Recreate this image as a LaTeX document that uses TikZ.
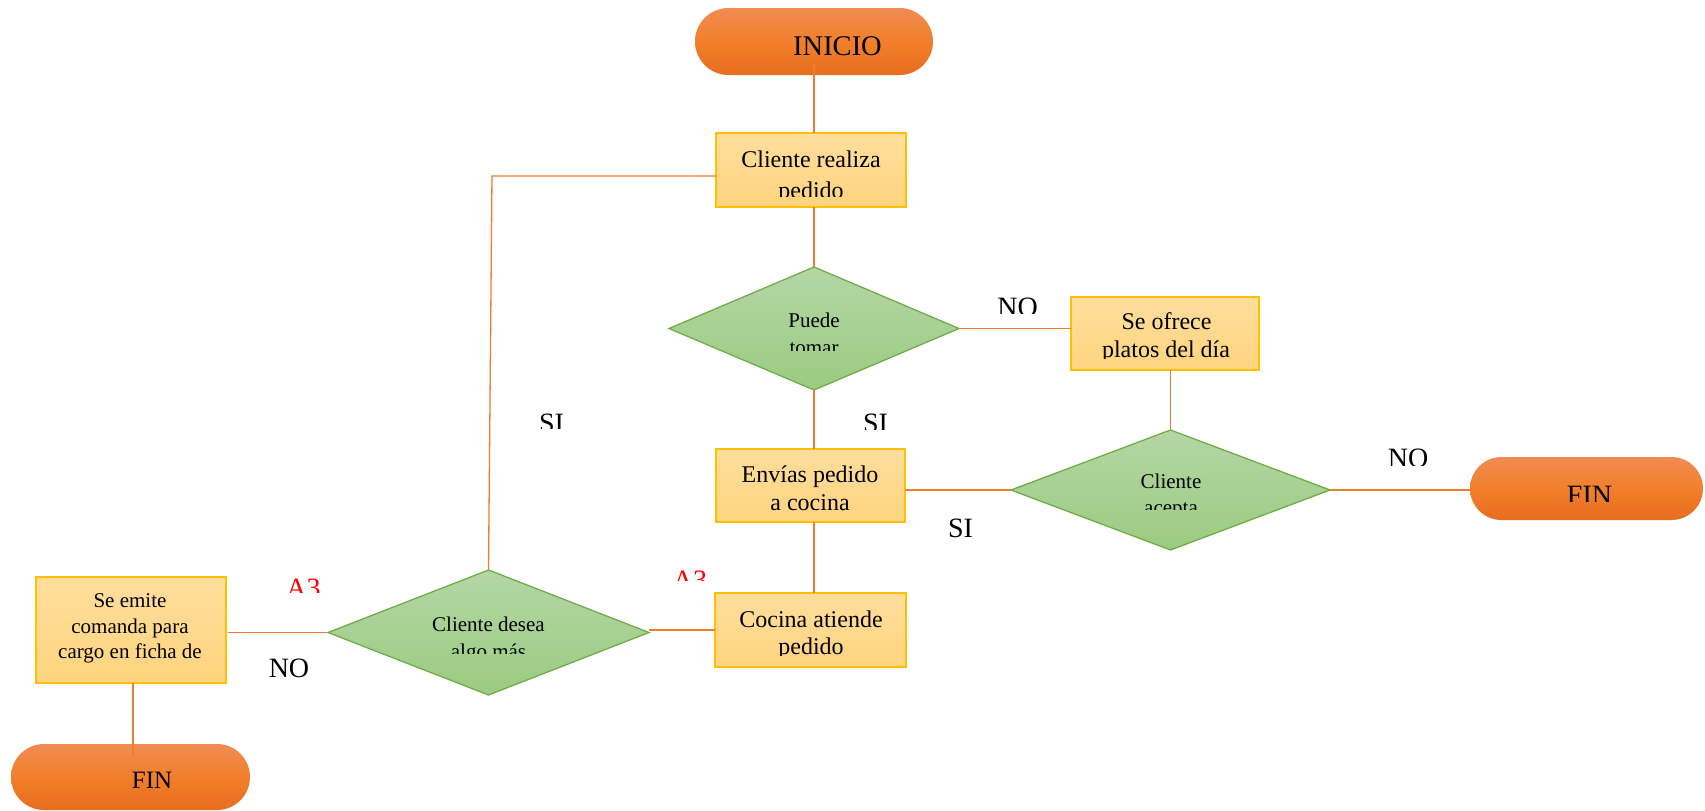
\documentclass[tikz,border=0pt]{standalone}
\usepackage{fontspec}
\setmainfont{Liberation Serif}
\usetikzlibrary{shapes.geometric,shapes.misc}

\definecolor{boxtop}{HTML}{FFDE9D}
\definecolor{boxbot}{HTML}{FFD47E}
\definecolor{boxline}{HTML}{FFC000}
\definecolor{dectop}{HTML}{B4D6A4}
\definecolor{decbot}{HTML}{9BCB82}
\definecolor{decline}{HTML}{70AD47}
\definecolor{termtop}{HTML}{F08C52}
\definecolor{termmid}{HTML}{F27F2B}
\definecolor{termbot}{HTML}{E66D1E}
\definecolor{conn}{HTML}{ED7D31}

\begin{document}
\begin{tikzpicture}[x=1pt,y=-1pt,
  procbox/.style={rectangle, draw=boxline, line width=1.8pt,
    top color=boxtop, bottom color=boxbot, inner sep=0pt, outer sep=0pt},
  decbox/.style={diamond, draw=decline, line width=1.3pt,
    top color=dectop, bottom color=decbot, inner sep=0pt, outer sep=0pt},
  termbox/.style={rounded rectangle, draw=none,
    top color=termtop, bottom color=termbot, middle color=termmid,
    inner sep=0pt, outer sep=0pt},
  flow/.style={draw=conn, line width=1.3pt},
  ptxt/.style={anchor=base, inner sep=0pt, font=\fontsize{24}{24}\selectfont},
  dtxt/.style={anchor=base, inner sep=0pt, font=\fontsize{21}{21}\selectfont},
  ttxt/.style={anchor=base, inner sep=0pt, font=\fontsize{28.5}{28.5}\selectfont},
  lbl/.style={anchor=base, inner sep=0pt, font=\fontsize{28}{28}\selectfont},
  redlbl/.style={lbl, text=red}]

\useasboundingbox (0,0) rectangle (1705,811);

% shapes
\node[termbox, minimum width=238pt, minimum height=67pt] (inicio) at (814,41.5) {};
\node[procbox, minimum width=190pt, minimum height=74pt] (crp) at (811,170) {};
\node[decbox, minimum width=290pt, minimum height=123pt] (puede) at (814,328.5) {};
\node[procbox, minimum width=188pt, minimum height=73pt] (ofrece) at (1165,333.5) {};
\node[decbox, minimum width=319pt, minimum height=120pt] (acepta) at (1170.5,490) {};
\node[termbox, minimum width=233pt, minimum height=63pt] (fin1) at (1586.5,488.5) {};
\node[procbox, minimum width=189pt, minimum height=73pt] (envias) at (810.5,485.5) {};
\node[procbox, minimum width=191pt, minimum height=74pt] (cocina) at (810.5,630) {};
\node[decbox, minimum width=321pt, minimum height=125pt] (desea) at (488.5,632.5) {};
\node[procbox, minimum width=190pt, minimum height=106pt] (emite) at (131,630) {};
\node[termbox, minimum width=239pt, minimum height=66pt] (fin2) at (130.5,777) {};

% bend of the return line
\coordinate (loopcorner) at (492,176);

% connectors
\draw[flow] ([yshift=12pt]inicio.south -| puede.north) -- (puede.north |- crp.north);
\draw[flow] (puede.north |- crp.south) -- (puede.north);
\draw[flow] (puede.east) -- (ofrece.west |- puede.east);
\draw[flow] (acepta.north |- ofrece.south) -- (acepta.north);
\draw[flow] (acepta.east) -- (fin1.west |- acepta.east);
\draw[flow] (acepta.west) -- (envias.east |- acepta.west);
\draw[flow] (puede.south) -- (puede.south |- envias.north);
\draw[flow] (puede.south |- envias.south) -- (puede.south |- cocina.north);
\draw[flow] (cocina.west) -- (desea.east |- cocina.west);
\draw[flow] (desea.west) -- ([xshift=2pt]emite.east |- desea.west);
\draw[flow] ([xshift=2pt]emite.south) -- ([xshift=2pt,yshift=-11pt]emite.south |- fin2.north);
\draw[flow] (crp.west |- loopcorner) -- (loopcorner) -- (desea.north);

% texts of the shapes
\node[ttxt] (tinicio) at (837.5,55) {INICIO};

\begin{scope}
  \clip (716,133) rectangle (906,196.5);
  \node[ptxt] (tcrp1) at (811,167) {Cliente realiza};
  \node[ptxt] (tcrp2) at (811,198) {pedido};
\end{scope}

\begin{scope}
  \clip (669,267) rectangle (959,350);
  \node[dtxt] (tpue1) at (814,327) {Puede};
  \node[dtxt] (tpue2) at (814,354.5) {tomar};
\end{scope}

\begin{scope}
  \clip (1071,297) rectangle (1259,358);
  \node[ptxt] (tofr1) at (1166.5,329) {Se ofrece};
  \node[ptxt] (tofr2) at (1166,357) {platos del día};
\end{scope}

\begin{scope}
  \clip (1011,430) rectangle (1330,509);
  \node[dtxt] (tace1) at (1171,488) {Cliente};
  \node[dtxt] (tace2) at (1171,514) {acepta};
\end{scope}

\begin{scope}
  \clip (1470,457) rectangle (1705,501);
  \node[lbl] (tfin1) at (1589.5,504) {FIN};
\end{scope}

\node[ptxt] (tenv1) at (810,482) {Envías pedido};
\node[ptxt] (tenv2) at (810,510) {a cocina};

\begin{scope}
  \clip (715,593) rectangle (906,655.5);
  \node[ptxt] (tcoc1) at (811,627) {Cocina atiende};
  \node[ptxt] (tcoc2) at (811,654.5) {pedido};
\end{scope}

\begin{scope}
  \clip (328,570) rectangle (649,653);
  \node[dtxt] (tdes1) at (488.5,631) {Cliente desea};
  \node[dtxt] (tdes2) at (488.5,658) {algo más};
\end{scope}

\node[dtxt] (temi1) at (130,607) {Se emite};
\node[dtxt] (temi2) at (130,633) {comanda para};
\node[dtxt] (temi3) at (130,658) {cargo en ficha de};

\node[lbl, font=\fontsize{25}{25}\selectfont] (tfin2) at (152,788) {FIN};

% branch labels
\begin{scope}
  \clip (980,280) rectangle (1060,313);
  \node[lbl] (lno1) at (1017.5,316) {NO};
\end{scope}
\begin{scope}
  \clip (1370,430) rectangle (1450,465);
  \node[lbl] (lno2) at (1408,467) {NO};
\end{scope}
\node[lbl] (lno3) at (289,677) {NO};

\begin{scope}
  \clip (520,400) rectangle (590,428);
  \node[lbl] (lsi1) at (551.5,432) {SI};
\end{scope}
\begin{scope}
  \clip (845,400) rectangle (905,429);
  \node[lbl] (lsi2) at (875.5,432) {SI};
\end{scope}
\node[lbl] (lsi3) at (960.5,537) {SI};

\begin{scope}
  \clip (270,560) rectangle (340,592);
  \node[redlbl] (la31) at (303.5,597) {A3};
\end{scope}
\begin{scope}
  \clip (655,555) rectangle (725,580);
  \node[redlbl] (la32) at (690,589) {A3};
\end{scope}

\end{tikzpicture}
\end{document}
